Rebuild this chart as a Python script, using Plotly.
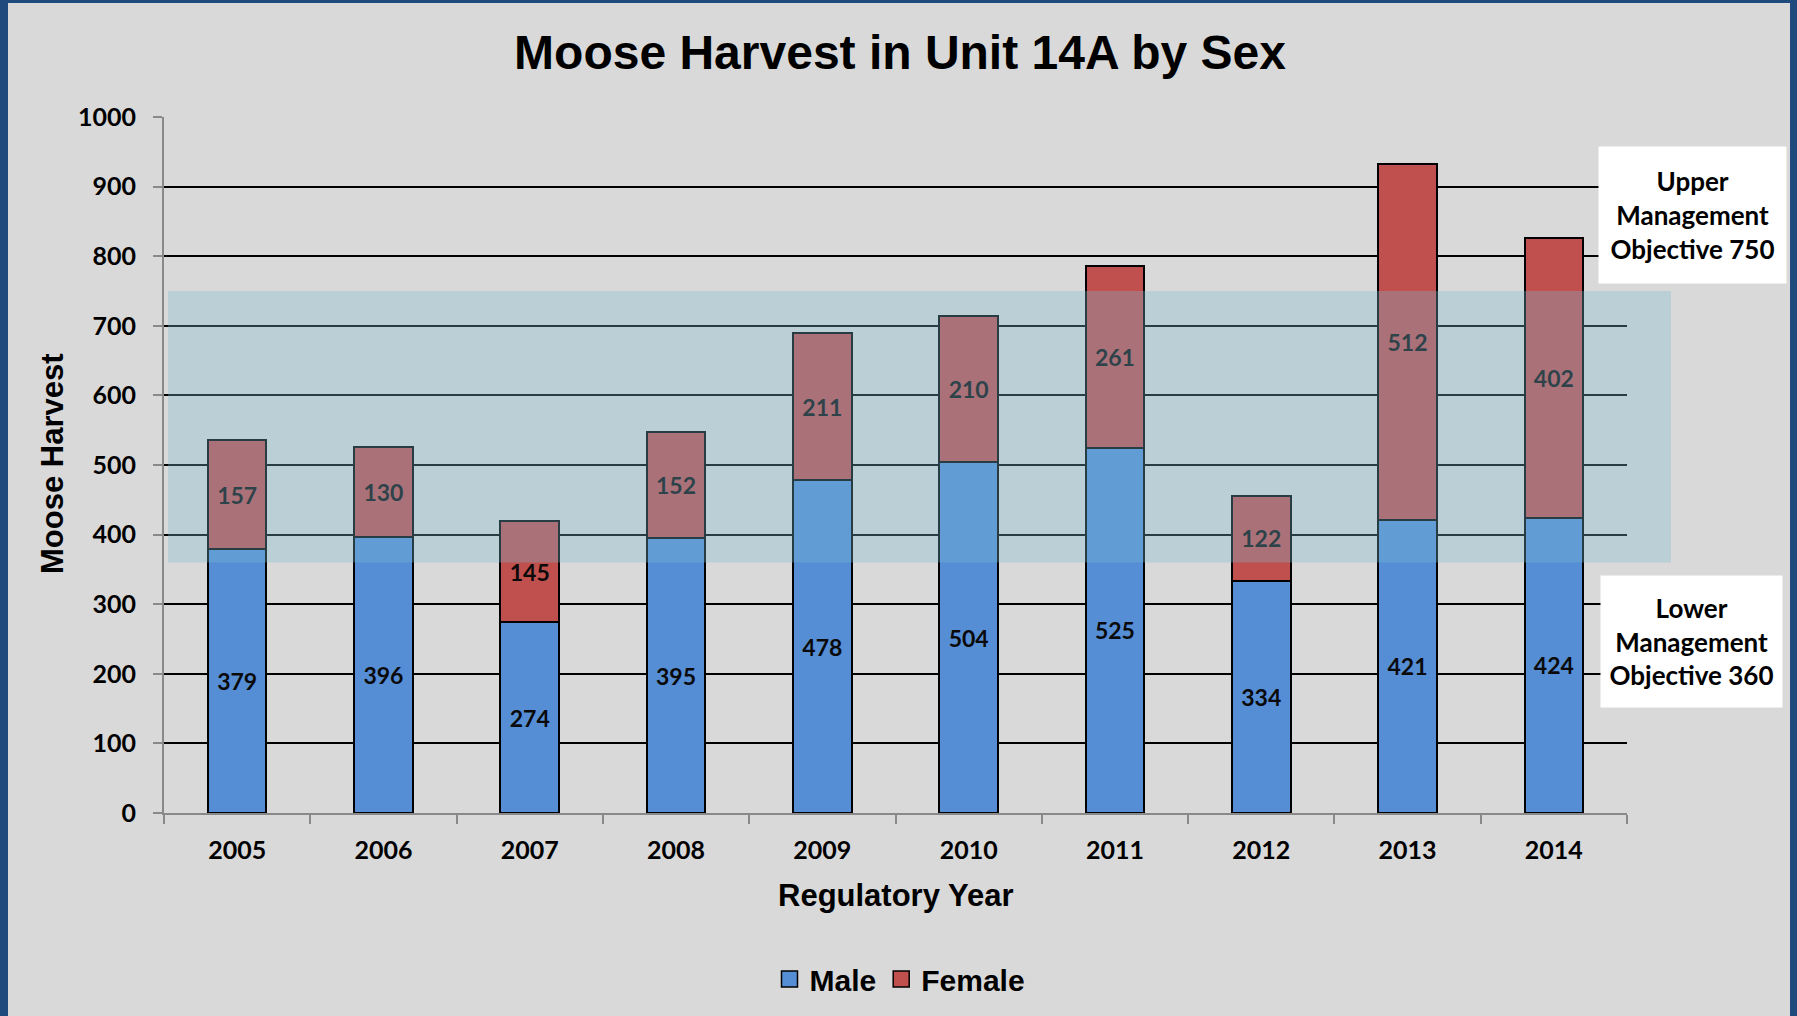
import plotly.graph_objects as go

# ---- data ----
years = ["2005", "2006", "2007", "2008", "2009", "2010", "2011", "2012", "2013", "2014"]
male = [379, 396, 274, 395, 478, 504, 525, 334, 421, 424]
female = [157, 130, 145, 152, 211, 210, 261, 122, 512, 402]
y_ticks = [0, 100, 200, 300, 400, 500, 600, 700, 800, 900, 1000]
UPPER_OBJ = 750
LOWER_OBJ = 360

# ---- layout geometry (pixels) ----
W, H = 1797, 1016
L, R, T, B = 164, 1627, 117, 813
PW, PH = R - L, B - T


def px_x(px):
    return (px - L) / PW


def px_y(py):
    return (B - py) / PH


BG = "#D9D9D9"
BORDER = "#1F4A7E"
MALE_C = "#558ED5"
FEMALE_C = "#C0504D"
TICKFONT = dict(family="Lato, Open Sans, sans-serif", size=25, color="#000000", weight="bold")
LABELFONT = dict(family="Lato, sans-serif", size=23, color="#0A0A0A", weight="bold")
ARIALB = "Liberation Sans, Arial, sans-serif"

fig = go.Figure()
for name, vals, col in (("Male", male, MALE_C), ("Female", female, FEMALE_C)):
    fig.add_trace(go.Bar(
        x=years, y=vals, name=name, showlegend=False,
        marker=dict(color=col, line=dict(color="#000000", width=2)),
        texttemplate="%{y}", textposition="inside", insidetextanchor="middle", textangle=0,
        textfont=LABELFONT, constraintext="none",
    ))
# legend swatches (square markers with black outline)
for name, col in (("Male", MALE_C), ("Female", FEMALE_C)):
    fig.add_trace(go.Scatter(
        x=[None], y=[None], mode="markers", name=name, showlegend=True,
        marker=dict(symbol="square", size=16, color=col, line=dict(color="#000000", width=1.5)),
    ))

shapes = [
    # management objective band
    dict(type="rect", xref="paper", yref="y", x0=px_x(168), x1=px_x(1671),
         y0=LOWER_OBJ, y1=UPPER_OBJ, fillcolor="rgba(123,187,210,0.32)",
         line=dict(width=0), layer="above"),
    # frame strips
    dict(type="rect", xref="paper", yref="paper", x0=px_x(0), x1=px_x(8),
         y0=px_y(H), y1=px_y(0), fillcolor=BORDER, line=dict(width=0), layer="below"),
    dict(type="rect", xref="paper", yref="paper", x0=px_x(1790), x1=px_x(W),
         y0=px_y(H), y1=px_y(0), fillcolor=BORDER, line=dict(width=0), layer="below"),
    dict(type="rect", xref="paper", yref="paper", x0=px_x(0), x1=px_x(W),
         y0=px_y(3), y1=px_y(0), fillcolor=BORDER, line=dict(width=0), layer="below"),
]

box_font = dict(family="Lato, sans-serif", size=26, color="#000000", weight="bold")
annotations = [
    dict(text="Upper<br>Management<br>Objective %d" % UPPER_OBJ, xref="paper", yref="paper",
         x=px_x(1692), y=px_y(215), xanchor="center", yanchor="middle", showarrow=False,
         bgcolor="#FFFFFF", width=185, height=134, align="center", font=box_font),
    dict(text="Lower<br>Management<br>Objective %d" % LOWER_OBJ, xref="paper", yref="paper",
         x=px_x(1691), y=px_y(641), xanchor="center", yanchor="middle", showarrow=False,
         bgcolor="#FFFFFF", width=179, height=129, align="center", font=box_font),
    dict(text="Moose Harvest", xref="paper", yref="paper", x=px_x(52), y=px_y(464),
         xanchor="center", yanchor="middle", textangle=-90, showarrow=False,
         font=dict(family=ARIALB, size=31, color="#000000", weight="bold")),
    dict(text="Regulatory Year", xref="paper", yref="paper", x=px_x(895), y=px_y(895),
         xanchor="center", yanchor="middle", showarrow=False,
         font=dict(family=ARIALB, size=31, color="#000000", weight="bold")),
]

fig.update_layout(
    width=W, height=H,
    margin=dict(l=L, r=W - R, t=T, b=H - B, autoexpand=False),
    paper_bgcolor=BG, plot_bgcolor=BG,
    barmode="stack", bargap=0.6,
    title=dict(text="Moose Harvest in Unit 14A by Sex", x=900 / W, y=1 - 52 / H,
               xref="container", yref="container", xanchor="center", yanchor="middle",
               font=dict(family=ARIALB, size=48, color="#000000", weight="bold")),
    xaxis=dict(type="category", showgrid=False, showline=True, linecolor="#898989", linewidth=2,
               ticks="outside", tickson="boundaries", ticklen=9, tickcolor="#898989", tickwidth=2,
               tickfont=TICKFONT, zeroline=False, ticklabelstandoff=14),
    yaxis=dict(range=[0, 1000], tickvals=y_ticks, showgrid=True, gridcolor="#000000", gridwidth=1.6,
               showline=True, linecolor="#898989", linewidth=2, ticks="outside", ticklen=9,
               tickcolor="#898989", tickwidth=2, tickfont=TICKFONT, zeroline=False,
               ticklabelstandoff=12),
    legend=dict(orientation="h", x=px_x(900), y=px_y(979), xanchor="center", yanchor="middle",
                traceorder="normal", itemsizing="trace",
                font=dict(family=ARIALB, size=30, color="#000000", weight="bold"),
                bgcolor="rgba(0,0,0,0)", itemwidth=30),
    shapes=shapes,
    annotations=annotations,
)

fig.write_html("out.html", config={"displayModeBar": False},
               post_script="document.body.style.margin='0';document.body.style.overflow='hidden';")
